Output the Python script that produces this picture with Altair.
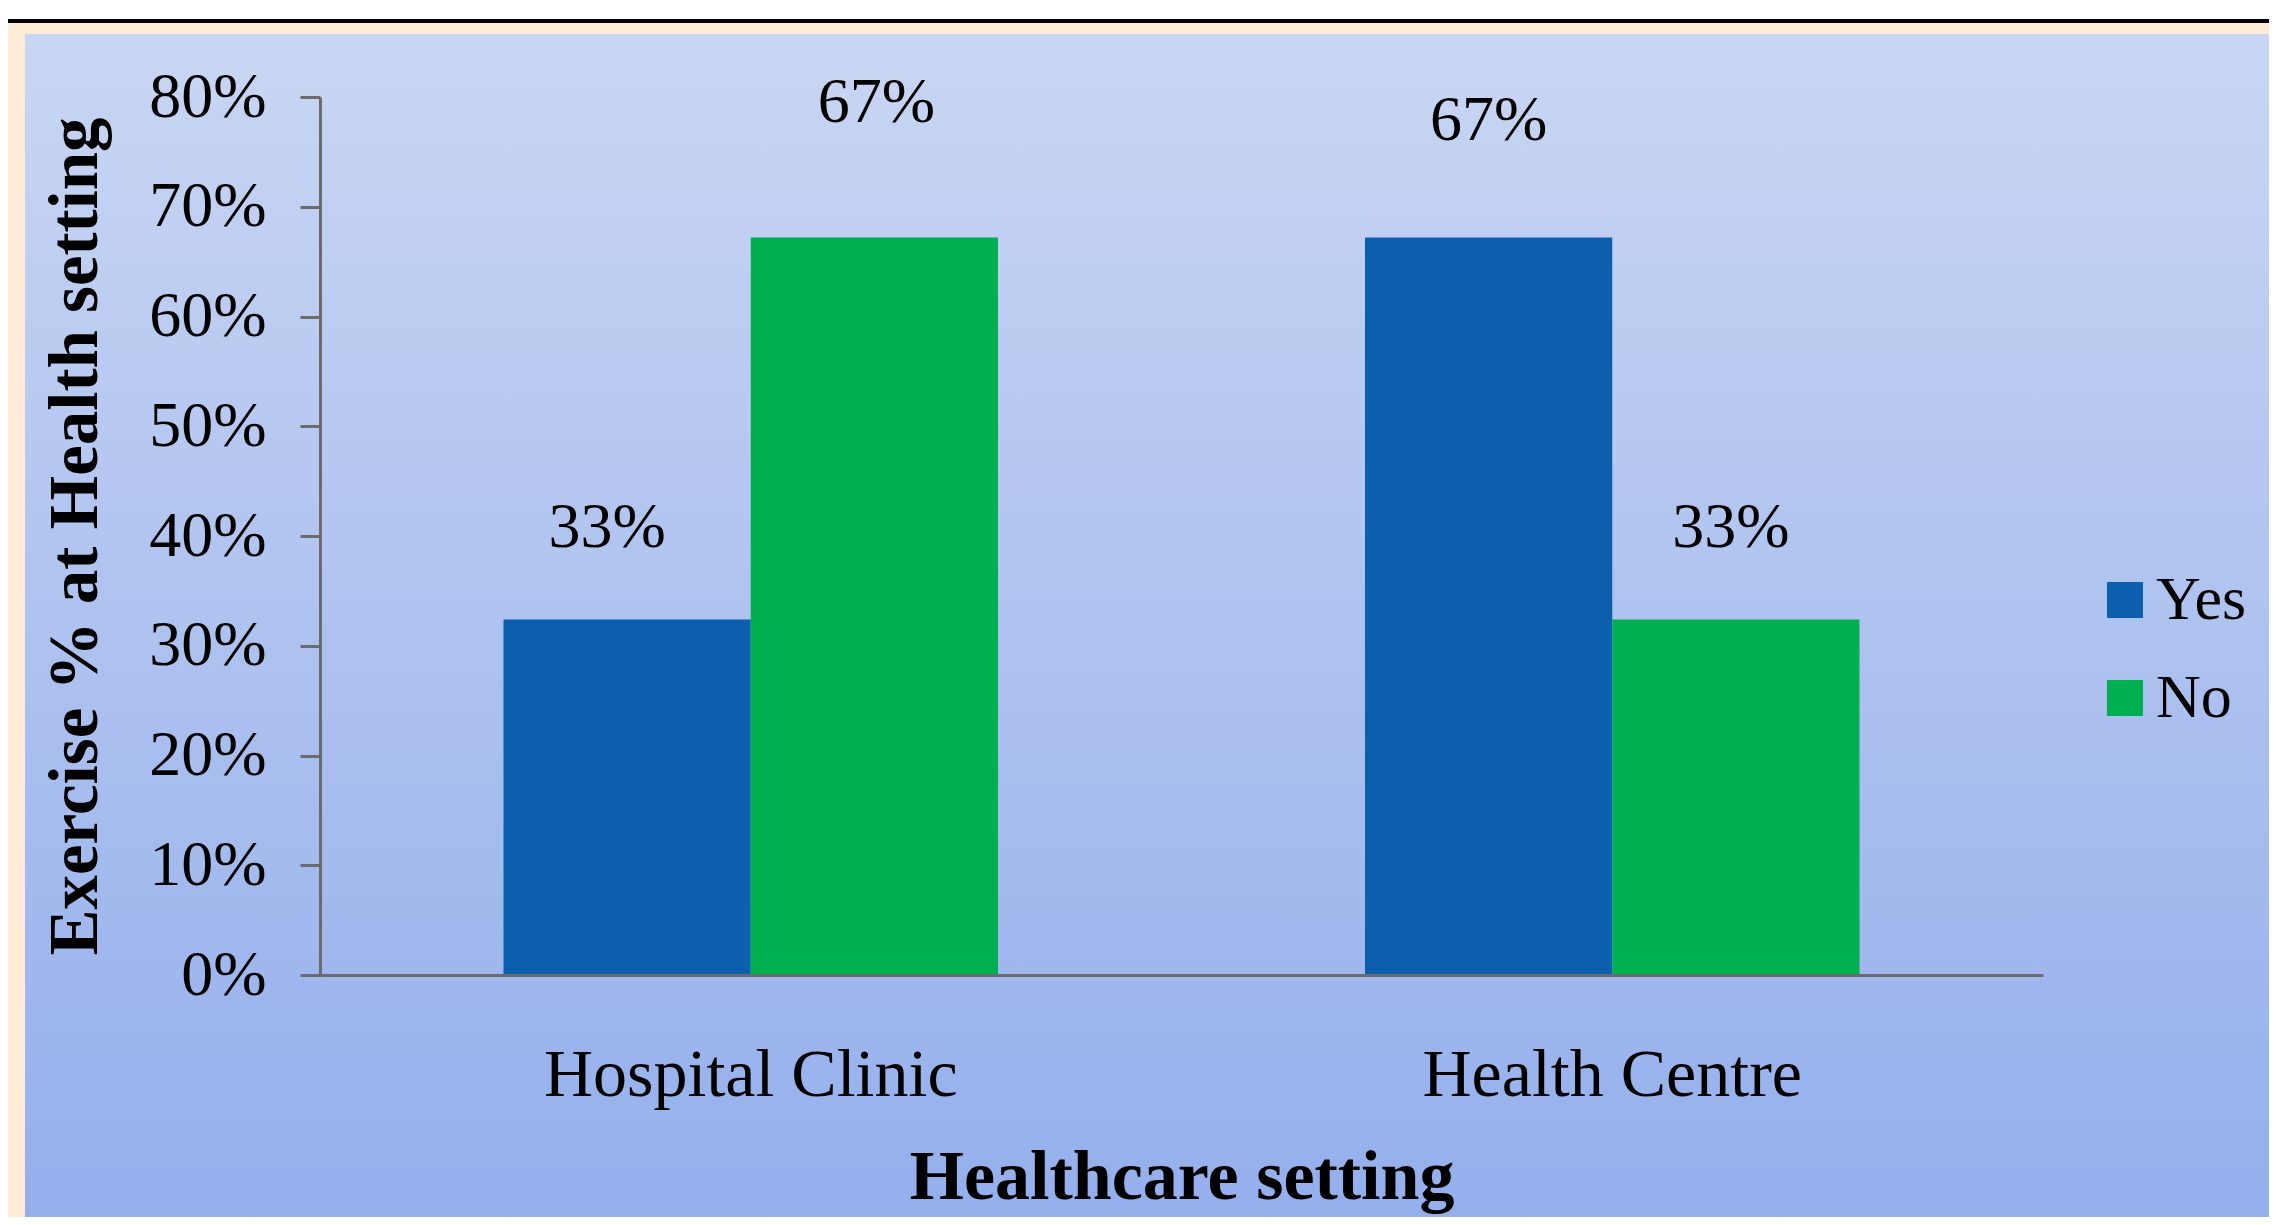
import altair as alt
import pandas as pd

# ---- data ----
categories = ["Hospital Clinic", "Health Centre"]
series = ["Yes", "No"]
settings = ["Hospital Clinic", "Hospital Clinic", "Health Centre", "Health Centre"]
answers = ["Yes", "No", "Yes", "No"]
values = [0.324, 0.672, 0.672, 0.324]
labels = ["33%", "67%", "67%", "33%"]
y_ticks = [0.0, 0.1, 0.2, 0.3, 0.4, 0.5, 0.6, 0.7, 0.8]

df = pd.DataFrame({
    "idx": list(range(len(settings))),
    "setting": settings,
    "answer": answers,
    "value": values,
    "label": labels,
})

FONT = "Liberation Serif"
W, H = 1723, 878
PAD_L, PAD_T = 312, 89
PAD_R = 2261 - PAD_L - W
PAD_B = 1209 - PAD_T - H

one = alt.Data(values=[{"k": 1}])

# decorative page background pieces (not data)
peach = alt.Chart(one).mark_rect(color="#FEEBD7").encode(
    x=alt.value(-PAD_L), x2=alt.value(W + PAD_R),
    y=alt.value(-74), y2=alt.value(H + PAD_B),
)
topline = alt.Chart(one).mark_rect(color="#000000").encode(
    x=alt.value(-PAD_L), x2=alt.value(W + PAD_R),
    y=alt.value(-78), y2=alt.value(-74),
)
blue = alt.Chart(one).mark_rect(
    color=alt.Gradient(
        gradient="linear",
        stops=[alt.GradientStop(color="#C9D6F3", offset=0),
               alt.GradientStop(color="#94AFEC", offset=1)],
        x1=0, x2=0, y1=0, y2=1,
    )
).encode(
    x=alt.value(-295), x2=alt.value(W + PAD_R),
    y=alt.value(-63), y2=alt.value(H + PAD_B),
)

x_enc = alt.X(
    "setting:N", sort=categories,
    scale=alt.Scale(paddingInner=0.426, paddingOuter=0.213),
    axis=alt.Axis(
        title="Healthcare setting", labelAngle=0, ticks=False, zindex=2,
        labelFont=FONT, labelFontSize=68, labelColor="#000000", labelPadding=66,
        labelLimit=0,
        titleFont=FONT, titleFontSize=70, titleFontWeight="bold", titleColor="#000000",
        titlePadding=34,
        domainColor="#6B6B6B", domainWidth=3,
    ),
)
y_enc = alt.Y(
    "value:Q",
    scale=alt.Scale(domain=[0, 0.8], nice=False),
    axis=alt.Axis(
        title="Exercise % at Health setting", values=y_ticks, format=".0%",
        grid=False, tickSize=20, tickWidth=3, tickColor="#6B6B6B", zindex=2,
        domainColor="#6B6B6B", domainWidth=3,
        labelFont=FONT, labelFontSize=64, labelColor="#000000", labelPadding=34,
        titleFont=FONT, titleFontSize=69, titleFontWeight="bold", titleColor="#000000",
        titlePadding=38,
    ),
)

bars = alt.Chart(df).mark_bar(strokeWidth=0).encode(
    x=x_enc,
    xOffset=alt.XOffset("answer:N", sort=series, scale=alt.Scale(paddingInner=0, paddingOuter=0)),
    y=y_enc,
    color=alt.Color(
        "answer:N", sort=series,
        scale=alt.Scale(domain=series, range=["#0B5FAC", "#00B050"]),
        legend=alt.Legend(
            title=None, orient="none", legendX=1774, legendY=472, padding=0,
            symbolType="square", symbolSize=1296, symbolStrokeWidth=0,
            labelFont=FONT, labelFontSize=62, labelColor="#000000",
            labelOffset=0, rowPadding=36, zindex=2,
        ),
    ),
)

# value labels, each with its own offset as in the reference
label_style = {0: (-20, -91), 1: (2, -134), 2: (0, -116), 3: (-5, -91)}
texts = []
for i, (ddx, ddy) in label_style.items():
    texts.append(
        alt.Chart(df).transform_filter(alt.datum.idx == i).mark_text(
            font=FONT, fontSize=64, color="#000000", baseline="middle",
            align="center", dx=ddx, dy=ddy,
        ).encode(
            x=alt.X("setting:N", sort=categories),
            xOffset=alt.XOffset("answer:N", sort=series),
            y="value:Q",
            text="label:N",
        )
    )

chart = alt.layer(peach, topline, blue, bars, *texts).properties(
    width=W, height=H,
    autosize=alt.AutoSizeParams(type="none"),
    padding={"left": PAD_L, "top": PAD_T, "right": PAD_R, "bottom": PAD_B},
    background="#FFFFFF",
).configure_view(stroke=None)

chart.save("out.html", embed_options={"renderer": "svg", "actions": False})
